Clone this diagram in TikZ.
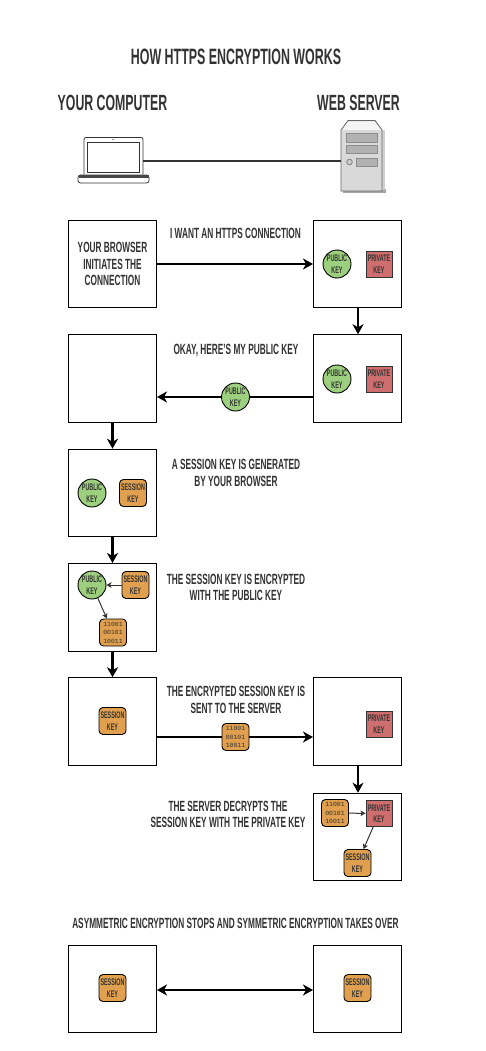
\documentclass[tikz,border=0pt]{standalone}
\usepackage{fontspec}
\setmainfont[FakeStretch=0.56]{Liberation Sans}
\newfontfamily\binfont{Liberation Mono}
\usetikzlibrary{arrows.meta}
\definecolor{ink}{HTML}{333333}
\definecolor{pubgreen}{HTML}{9CD07E}
\definecolor{privred}{HTML}{CE6E6E}
\definecolor{sesorange}{HTML}{E0A04F}
\tikzset{
  x=1pt,y=-1pt,
  txt/.style={text=ink,inner sep=0pt,align=center},
  titletxt/.style={txt,font=\bfseries\fontsize{22.2}{24}\selectfont},
  headtxt/.style={txt,font=\bfseries\fontsize{22}{24}\selectfont},
  captxt/.style={txt,font=\bfseries\fontsize{14.8}{16.5}\selectfont},
  stepbox/.style={draw=black,line width=1pt,fill=white,minimum width=88pt,minimum height=87.5pt,inner sep=0pt,text=ink,align=center,font=\bfseries\fontsize{14.8}{16.5}\selectfont},
  keytxt/.style={text=ink,align=center,inner sep=0pt,font=\bfseries\fontsize{9.6}{11.5}\selectfont},
  pubkey/.style={keytxt,circle,draw=black,line width=.9pt,fill=pubgreen,minimum size=28pt},
  privkey/.style={keytxt,rectangle,draw=black!80,line width=.9pt,fill=privred,minimum size=26pt},
  seskey/.style={keytxt,rectangle,rounded corners=4pt,draw=black,line width=.9pt,fill=sesorange,minimum size=27pt},
  binkey/.style={seskey,font=\binfont\fontsize{6.4}{8.5}\selectfont},
  arr/.style={draw=black,line width=2.4pt,-{Stealth[length=10pt,width=11pt,inset=3pt]}},
  barr/.style={draw=black,line width=2.4pt,{Stealth[length=10pt,width=11pt,inset=3pt]}-{Stealth[length=10pt,width=11pt,inset=3pt]}},
  plainline/.style={draw=black,line width=2.4pt},
  thinarr/.style={draw=ink,line width=1pt,-{Stealth[length=5pt,width=5.5pt,inset=1.2pt]}},
}
\begin{document}
\begin{tikzpicture}
\useasboundingbox[fill=white] (0,0) rectangle (485,1051);
% headings
\node[titletxt] (ttl) at (236,57) {HOW HTTPS ENCRYPTION WORKS};
\node[headtxt] (hc) at (112.5,103) {YOUR COMPUTER};
\node[headtxt] (hs) at (358.5,103) {WEB SERVER};
% laptop
\draw[ink,line width=.8pt,fill=white,rounded corners=2pt] (84,174.5) -- (84,137.5) -- (143,137.5) -- (143,174.5);
\draw[ink,line width=.8pt,fill=white] (87.5,142) rectangle (139,172);
\fill[ink] (113,139.5) circle (.7);
\draw[ink,line width=.8pt,fill=white,rounded corners=2.5pt] (78,175) rectangle (149,183);
\fill[ink!90] (78.5,175) rectangle (148.5,178);
\coordinate (lap) at (143,161);
% server
\fill[black!35] (343,189) rectangle (386,193);
\fill[black!18] (382,130) rectangle (385,190);
\draw[black!60,line width=.8pt,fill=black!15] (341,130) -- (348,120.5) -- (375,120.5) -- (382,130) -- (382,191) -- (341,191) -- cycle;
\fill[black!4] (342,130) -- (348.5,121.5) -- (374.5,121.5) -- (381,130) -- cycle;
\draw[black!45,line width=.6pt,fill=black!30] (346,133.5) rectangle (377,142);
\draw[black!45,line width=.6pt,fill=black!30] (346,145) rectangle (377,153);
\draw[black!50,line width=.8pt,fill=black!20] (349.5,162) circle (2.8);
\draw[black!45,line width=.6pt,fill=black!30] (356,158) rectangle (377,166);
\coordinate (srv) at (341,161);
\draw[ink,line width=1.8pt] (lap) -- (srv);
% boxes
\node[stepbox] (a1) at (112.5,264) {YOUR BROWSER\\INITIATES THE\\CONNECTION};
\node[stepbox] (b1) at (357.5,264) {};
\node[stepbox] (a2) at (112.5,378.5) {};
\node[stepbox] (b2) at (357.5,378.5) {};
\node[stepbox] (a3) at (112.5,493) {};
\node[stepbox,minimum height=88pt] (a4) at (112.5,607.5) {};
\node[stepbox] (a5) at (112.5,721.5) {};
\node[stepbox] (b5) at (357.5,721.5) {};
\node[stepbox] (b6) at (357.5,837) {};
\node[stepbox] (a7) at (112.5,989) {};
\node[stepbox] (b7) at (357.5,989) {};
% captions
\node[captxt] (c1) at (235.5,233) {I WANT AN HTTPS CONNECTION};
\node[captxt] (c2) at (236,350) {OKAY, HERE'S MY PUBLIC KEY};
\node[captxt] (c3) at (236,473) {A SESSION KEY IS GENERATED\\BY YOUR BROWSER};
\node[captxt] (c4) at (236,587.5) {THE SESSION KEY IS ENCRYPTED\\WITH THE PUBLIC KEY};
\node[captxt] (c5) at (236,700) {THE ENCRYPTED SESSION KEY IS\\SENT TO THE SERVER};
\node[captxt] (c6) at (228,814.5) {THE SERVER DECRYPTS THE\\SESSION KEY WITH THE PRIVATE KEY};
\node[captxt] (c7) at (235.5,923) {ASYMMETRIC ENCRYPTION STOPS AND SYMMETRIC ENCRYPTION TAKES OVER};
% keys
\node[pubkey] (pb1) at (337,264) {PUBLIC\\KEY};
\node[privkey] (pr1) at (379,264) {PRIVATE\\KEY};
\node[pubkey] (pb2) at (337,379) {PUBLIC\\KEY};
\node[privkey] (pr2) at (379,379) {PRIVATE\\KEY};
\node[pubkey] (pbm) at (235.5,397) {PUBLIC\\KEY};
\node[pubkey] (pb3) at (92,493) {PUBLIC\\KEY};
\node[seskey] (se3) at (133,493) {SESSION\\KEY};
\node[pubkey] (pb4) at (92,585) {PUBLIC\\KEY};
\node[seskey] (se4) at (135.5,585) {SESSION\\KEY};
\node[binkey] (bn4) at (113,632.5) {11001\\00101\\10011};
\node[seskey] (se5) at (112.5,721) {SESSION\\KEY};
\node[binkey] (bnm) at (235.5,737) {11001\\00101\\10011};
\node[privkey] (pr5) at (379,724) {PRIVATE\\KEY};
\node[binkey] (bn6) at (335,813) {11001\\00101\\10011};
\node[privkey] (pr6) at (379,813.5) {PRIVATE\\KEY};
\node[seskey] (se6) at (357.5,863) {SESSION\\KEY};
\node[seskey] (se7) at (112.5,988) {SESSION\\KEY};
\node[seskey] (se8) at (357.5,988) {SESSION\\KEY};
% connectors
\draw[arr] (a1.east) -- (b1.west);
\draw[arr] ([xshift=.5pt]b1.south) -- ([xshift=.5pt]b2.north);
\draw[plainline] (b2.west |- pbm) -- (pbm);
\draw[arr] (pbm) -- (a2.east |- pbm);
\draw[arr] (a2.south) -- (a3.north);
\draw[arr] (a3.south) -- (a4.north);
\draw[arr] (a4.south) -- (a5.north);
\draw[plainline] (a5.east |- bnm) -- (bnm);
\draw[arr] (bnm) -- (b5.west |- bnm);
\draw[arr] ([xshift=.5pt]b5.south) -- ([xshift=.5pt]b6.north);
\coordinate (m7) at (235,990);
\draw[barr] (a7.east |- m7) -- (b7.west |- m7);
\draw[thinarr] (se4) -- (pb4);
\draw[thinarr] (pb4) -- (bn4);
\draw[thinarr] (bn6) -- (pr6);
\draw[thinarr] (pr6) -- (se6);
\end{tikzpicture}
\end{document}
